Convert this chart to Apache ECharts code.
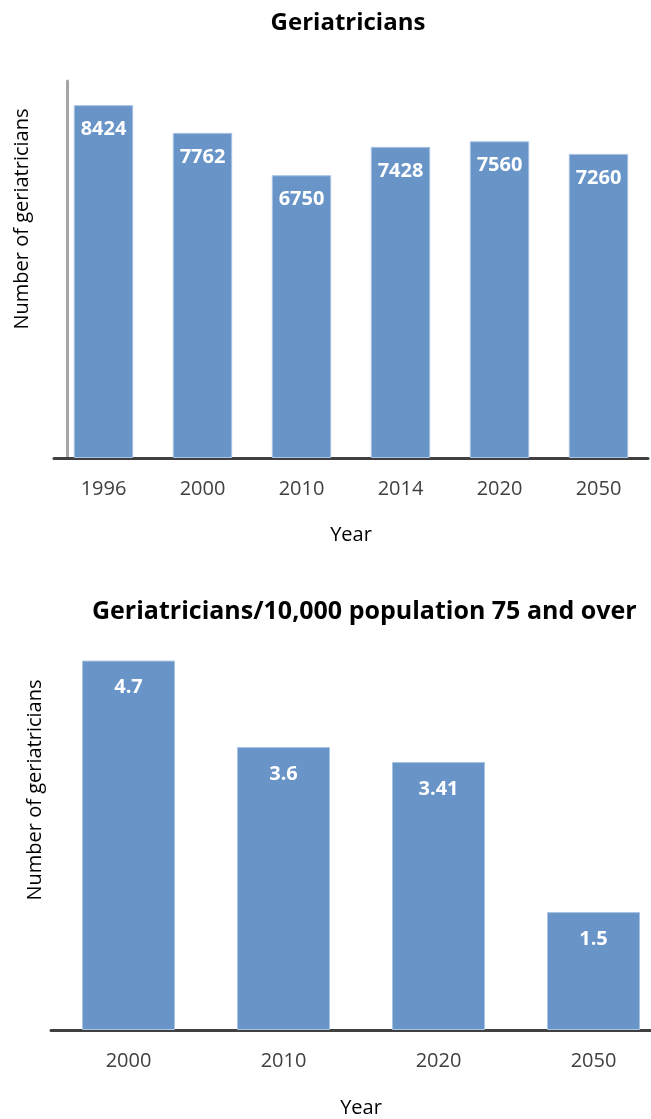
<!DOCTYPE html>
<html><head><meta charset="utf-8">
<script src="https://cdn.jsdelivr.net/npm/echarts@6/dist/echarts.min.js"></script>
<style>html,body{margin:0;padding:0;background:#fff;overflow:hidden}#c{width:696px;height:1119px}</style>
</head><body><div id="c"></div>
<script>
const years1 = ['1996','2000','2010','2014','2020','2050'];
const counts1 = [8424, 7762, 6750, 7428, 7560, 7260];
const years2 = ['2000','2010','2020','2050'];
const rates2 = [4.7, 3.6, 3.41, 1.5];
const title1 = 'Geriatricians';
const title2 = 'Geriatricians/10,000 population 75 and over';
const yName = 'Number of geriatricians';
const xName = 'Year';

const FONT = 'Open Sans';
const barColor = '#6894c8';
const chart = echarts.init(document.getElementById('c'));
function lbl(d){ return {show:true, position:'insideTop', distance:d, color:'#fff', fontWeight:'bold', fontSize:20, fontFamily:FONT}; }
const axisLabel = {color:'#404040', fontSize:20, margin:21, fontFamily:FONT};
const nameStyle = {color:'#000', fontSize:20, fontFamily:FONT};
chart.setOption({
  animation:false,
  textStyle:{fontFamily:FONT},
  title:[
    {text:title1, left:'center', top:6, textStyle:{fontSize:24, fontWeight:'bold', color:'#000', fontFamily:FONT}},
    {text:title2, left:87, top:594, textStyle:{fontSize:25, fontWeight:'bold', color:'#000', fontFamily:FONT}}
  ],
  grid:[
    {left:54, width:594, top:81, height:377},
    {left:51, width:620, top:637, height:393}
  ],
  xAxis:[
    {gridIndex:0, type:'category', data:years1, axisTick:{show:false},
     axisLine:{lineStyle:{color:'#404040', width:3}}, axisLabel:axisLabel,
     name:xName, nameLocation:'middle', nameGap:67, nameTextStyle:nameStyle},
    {gridIndex:1, type:'category', data:years2, axisTick:{show:false},
     axisLine:{lineStyle:{color:'#404040', width:3}}, axisLabel:axisLabel,
     name:xName, nameLocation:'middle', nameGap:68, nameTextStyle:nameStyle}
  ],
  yAxis:[
    {gridIndex:0, type:'value', min:0, max:9000, offset:-13, splitLine:{show:false},
     axisLine:{show:true, lineStyle:{color:'#a6a6a6', width:3}}, axisLabel:{show:false}, axisTick:{show:false}},
    {gridIndex:1, type:'value', min:0, max:5, splitLine:{show:false},
     axisLine:{show:false}, axisLabel:{show:false}, axisTick:{show:false}}
  ],
  graphic:[
    {type:'text', x:22, y:219, rotation:Math.PI/2, style:{text:yName, fill:'#000', font:'20px "'+FONT+'"', textAlign:'center', textVerticalAlign:'middle'}},
    {type:'text', x:35, y:790, rotation:Math.PI/2, style:{text:yName, fill:'#000', font:'20px "'+FONT+'"', textAlign:'center', textVerticalAlign:'middle'}}
  ],
  series:[
    {type:'bar', xAxisIndex:0, yAxisIndex:0, data:counts1, barWidth:'60%',
     itemStyle:{color:barColor, borderColor:'#a9c3e3', borderWidth:1}, label:lbl(14)},
    {type:'bar', xAxisIndex:1, yAxisIndex:1, data:rates2, barWidth:'60%',
     itemStyle:{color:barColor, borderColor:'#a9c3e3', borderWidth:1}, label:lbl(17)}
  ]
});
</script></body></html>
